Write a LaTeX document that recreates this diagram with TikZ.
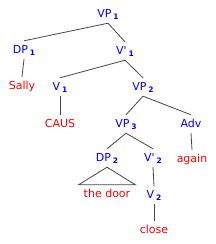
\documentclass[tikz,border=0pt]{standalone}
\usepackage{fontspec}
\setmainfont{DejaVu Sans}
\definecolor{catblue}{RGB}{0,0,255}
\definecolor{wordred}{RGB}{255,0,0}
\definecolor{edgegray}{RGB}{70,70,70}
\newcommand{\cat}[2]{#1\hspace{2pt}\raisebox{-2pt}{\fontsize{7.5pt}{8pt}\selectfont\bfseries #2}}
\tikzset{
  catnode/.style={text=catblue, font=\fontsize{11pt}{13pt}\selectfont, inner sep=4pt, text height=8pt, text depth=2pt},
  wordnode/.style={text=wordred, font=\fontsize{11pt}{13pt}\selectfont, inner sep=4pt, text height=8pt, text depth=2pt},
  edge/.style={draw=edgegray, line width=0.8pt}
}
\begin{document}
\begin{tikzpicture}[x=1pt,y=-1pt]
\useasboundingbox (0,0) rectangle (215,244);
\node[catnode] (vp1) at (108,14) {\cat{VP}{1}};
\node[catnode] (dp1) at (24,50) {\cat{DP}{1}};
\node[catnode] (vb1) at (125,51) {\cat{V\textquotesingle}{1}};
\node[wordnode] (sally) at (22,86) {Sally};
\node[catnode] (v1) at (60,87) {\cat{V}{1}};
\node[catnode] (vp2) at (143,87) {\cat{VP}{2}};
\node[wordnode] (caus) at (60,124) {CAUS};
\node[catnode] (vp3) at (126,124) {\cat{VP}{3}};
\node[catnode] (adv) at (191,124) {Adv};
\node[catnode] (dp2) at (107,158) {\cat{DP}{2}};
\node[catnode] (vb2) at (153,158) {\cat{V\textquotesingle}{2}};
\node[wordnode] (again) at (192,159) {again};
\node[wordnode] (door) at (107,194) {the door};
\node[catnode] (v2) at (154,195) {\cat{V}{2}};
\node[wordnode] (close) at (154,230) {close};

\draw[edge] (vp1.south) -- (dp1.north);
\draw[edge] (vp1.south) -- (vb1.north);
\draw[edge] (dp1.south) -- (sally.north);
\draw[edge] (vb1.south) -- (v1.north);
\draw[edge] (vb1.south) -- (vp2.north);
\draw[edge] (v1.south) -- (caus.north);
\draw[edge] (vp2.south) -- (vp3.north);
\draw[edge] (vp2.south) -- (adv.north);
\draw[edge] (adv.south) -- (again.north);
\draw[edge] (vp3.south) -- (dp2.north);
\draw[edge] (vp3.south) -- (vb2.north);
\draw[edge] (dp2.south) -- ([xshift=-1pt]door.north west) -- ([xshift=1pt]door.north east) -- cycle;
\draw[edge] (vb2.south) -- (v2.north);
\draw[edge] (v2.south) -- (close.north);
\end{tikzpicture}
\end{document}
